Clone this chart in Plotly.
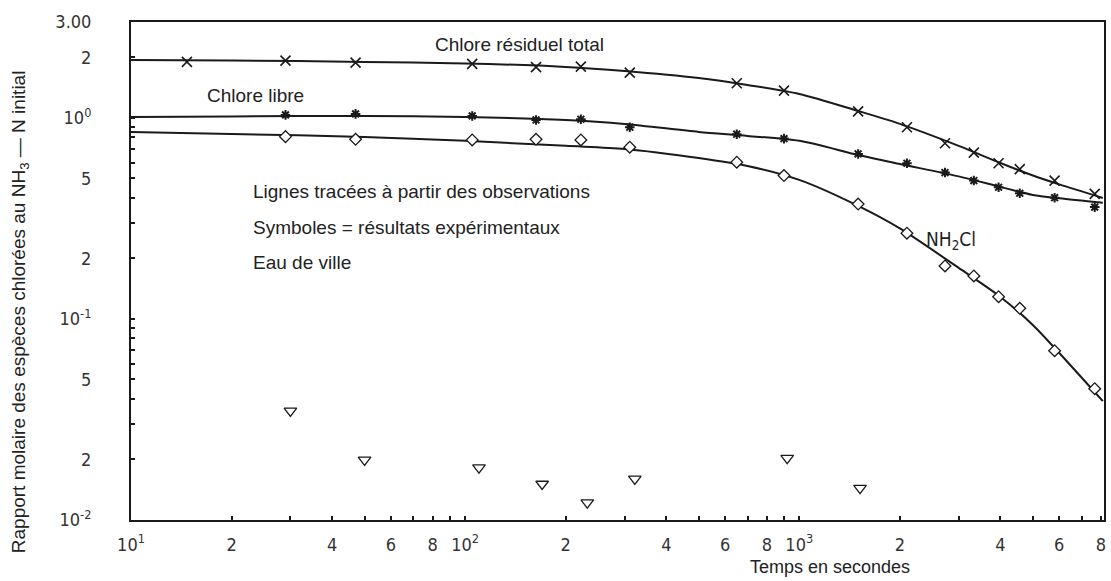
import plotly.graph_objects as go

# ---- data ----
# experimental times (s)
t_exp = [29, 47, 105, 163, 222, 311, 650, 900, 1500, 2100, 2730, 3330, 3950, 4570, 5810, 7660]
total_t = [14.7] + t_exp
total_y = [1.90, 1.928, 1.884, 1.857, 1.788, 1.800, 1.680, 1.488, 1.367, 1.077, 0.899,
           0.748, 0.672, 0.595, 0.556, 0.488, 0.419]
libre_y = [1.035, 1.047, 1.023, 0.977, 0.985, 0.899, 0.830, 0.789, 0.662, 0.595, 0.535,
           0.488, 0.452, 0.422, 0.401, 0.360]
nh2cl_y = [0.807, 0.783, 0.777, 0.783, 0.777, 0.715, 0.602, 0.517, 0.373, 0.267, 0.1835,
           0.1636, 0.129, 0.113, 0.0695, 0.045]
tri_t = [30, 50, 110, 170, 232, 322, 920, 1520]
tri_y = [0.0349, 0.0199, 0.0182, 0.0151, 0.0122, 0.0160, 0.0203, 0.0144]

# smoothed lines drawn through the observations
t_line = [10, 20, 50, 100, 200, 300, 500, 700, 1000, 1500, 2000, 3000, 4000, 5000, 6000, 8100]
total_line = [1.944, 1.932, 1.899, 1.867, 1.793, 1.713, 1.581, 1.459, 1.316, 1.083, 0.934,
              0.726, 0.597, 0.517, 0.467, 0.400]
libre_line = [1.012, 1.017, 1.023, 1.012, 0.977, 0.934, 0.852, 0.814, 0.769, 0.654, 0.590,
              0.512, 0.454, 0.414, 0.398, 0.378]
nh2cl_line = [0.852, 0.832, 0.804, 0.769, 0.726, 0.701, 0.632, 0.577, 0.4915, 0.365, 0.282,
              0.1794, 0.1287, 0.0934, 0.0677, 0.039]

x_tickvals = [10, 20, 40, 60, 80, 100, 200, 400, 600, 800, 1000, 2000, 4000, 6000, 8000]
x_ticktext = ["10<sup>1</sup>", "2", "4", "6", "8", "10<sup>2</sup>", "2", "4", "6", "8",
              "10<sup>3</sup>", "2", "4", "6", "8"]
x_minor = [30, 50, 70, 90, 300, 500, 700, 900, 3000, 5000, 7000]
y_tickvals = [0.01, 0.02, 0.05, 0.1, 0.2, 0.5, 1, 2, 3]
y_ticktext = ["10<sup>-2</sup>", "2", "5", "10<sup>-1</sup>", "2", "5", "10<sup>0</sup>", "2", "3.00"]
y_minor = [0.03, 0.04, 0.06, 0.07, 0.08, 0.09, 0.3, 0.4, 0.6, 0.7, 0.8, 0.9]

INK = "#1a1a1a"
TICKFONT = dict(family="Liberation Sans Narrow, DejaVu Sans Condensed, Roboto, sans-serif",
                size=18, color="#333")
TXTFONT = dict(family="Liberation Sans, Arial, Helvetica, sans-serif", size=19, color="#222")

fig = go.Figure()

for y in (total_line, libre_line, nh2cl_line):
    fig.add_trace(go.Scatter(x=t_line, y=y, mode="lines",
                             line=dict(color=INK, width=2, shape="spline", smoothing=0.8),
                             hoverinfo="skip", showlegend=False))

fig.add_trace(go.Scatter(x=total_t, y=total_y, mode="markers",
                         marker=dict(symbol="x-thin", size=10, line=dict(color=INK, width=1.6)),
                         showlegend=False))
fig.add_trace(go.Scatter(x=t_exp, y=libre_y, mode="markers",
                         marker=dict(symbol="asterisk", size=8, line=dict(color=INK, width=2)),
                         showlegend=False))
fig.add_trace(go.Scatter(x=t_exp, y=nh2cl_y, mode="markers",
                         marker=dict(symbol="diamond", size=9, color="white",
                                     line=dict(color=INK, width=1.3)),
                         showlegend=False))
fig.add_trace(go.Scatter(x=tri_t, y=tri_y, mode="markers",
                         marker=dict(symbol="triangle-down", size=11, color="white",
                                     line=dict(color=INK, width=1.3)),
                         showlegend=False))

fig.update_layout(
    width=1111, height=581,
    margin=dict(l=131, r=5, t=22, b=61),
    paper_bgcolor="white", plot_bgcolor="white",
    xaxis=dict(type="log", range=[1, 3.912], showgrid=False, zeroline=False,
               showline=True, linecolor=INK, linewidth=2, mirror=True,
               tickmode="array", tickvals=x_tickvals, ticktext=x_ticktext,
               ticks="inside", ticklen=4, tickcolor=INK, tickwidth=1.5,
               tickfont=TICKFONT, ticklabelstandoff=7,
               minor=dict(tickmode="array", tickvals=x_minor, ticks="inside",
                          ticklen=4, tickcolor=INK, tickwidth=1.5, showgrid=False)),
    yaxis=dict(type="log", range=[-2, 0.4771], showgrid=False, zeroline=False,
               showline=True, linecolor=INK, linewidth=2, mirror=True,
               tickmode="array", tickvals=y_tickvals, ticktext=y_ticktext,
               ticks="inside", ticklen=4, tickcolor=INK, tickwidth=1.5,
               tickfont=TICKFONT, ticklabelstandoff=34,
               minor=dict(tickmode="array", tickvals=y_minor, ticks="inside",
                          ticklen=4, tickcolor=INK, tickwidth=1.5, showgrid=False)),
)

def note(text, x, y, xanchor="left", font=TXTFONT, angle=0):
    fig.add_annotation(text=text, x=x, y=y, xref="paper", yref="paper",
                       xanchor=xanchor, yanchor="middle", showarrow=False,
                       font=font, textangle=angle)

PW, PH = 975.0, 498.0
def px(xp):
    return (xp - 131) / PW
def py(yp):
    return (520 - yp) / PH

note("Chlore résiduel total", px(434), py(44))
note("Chlore libre", px(205), py(96))
note("Lignes tracées à partir des observations", px(251), py(191))
note("Symboles = résultats expérimentaux", px(251), py(227))
note("Eau de ville", px(251), py(262))
note("NH<sub>2</sub>Cl", px(926), py(240),
     font=dict(family="Liberation Sans Narrow, DejaVu Sans Condensed, sans-serif", size=19, color="#222"))
note("Temps en secondes", px(831), py(567), xanchor="center",
     font=dict(family="Liberation Sans, Arial, sans-serif", size=18, color="#222"))
note("Rapport molaire des espèces chlorées au NH<sub>3</sub> — N initial", px(20), py(312),
     xanchor="center", font=dict(family="Liberation Sans, Arial, sans-serif", size=19, color="#222"),
     angle=-90)

fig.write_html("out.html")
